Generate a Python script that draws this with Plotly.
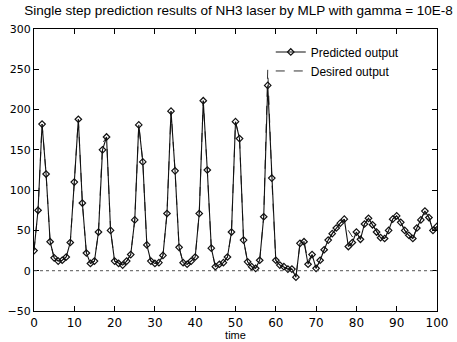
import plotly.graph_objects as go

time = list(range(0, 101))

predicted = [
    25, 75, 182, 120, 36, 16, 12, 13, 17, 35,
    110, 188, 84, 22, 9, 12, 48, 150, 166, 50,
    12, 9, 7, 12, 20, 63, 181, 135, 32, 12,
    9, 10, 19, 71, 198, 124, 29, 10, 8, 12,
    17, 71, 211, 125, 28, 5, 8, 10, 17, 48,
    185, 164, 38, 11, 5, 3, 13, 67, 230, 115,
    13, 7, 5, 2, 2, -8, 34, 36, 8, 20,
    3, 13, 26, 38, 46, 53, 59, 64, 30, 35,
    48, 39, 58, 65, 57, 48, 41, 40, 50, 64,
    68, 60, 50, 44, 40, 53, 63, 74, 66, 50,
    55,
]

desired = [
    25, 75, 182, 120, 36, 16, 12, 13, 17, 35,
    110, 188, 84, 22, 9, 12, 48, 158, 166, 50,
    12, 9, 7, 12, 20, 63, 181, 135, 32, 12,
    9, 10, 19, 71, 198, 124, 29, 10, 8, 12,
    17, 71, 211, 125, 28, 5, 8, 10, 17, 48,
    185, 164, 38, 11, 5, 3, 13, 67, 250, 115,
    13, 7, 5, 2, 2, -8, 34, 36, 12, 20,
    3, 13, 26, 38, 46, 53, 59, 64, 50, 42,
    48, 39, 58, 65, 57, 48, 41, 40, 50, 64,
    68, 60, 50, 44, 40, 53, 63, 74, 66, 50,
    55,
]

x_ticks = [0, 10, 20, 30, 40, 50, 60, 70, 80, 90, 100]
y_ticks = [-50, 0, 50, 100, 150, 200, 250, 300]

title_text = "Single step prediction results of NH3 laser by MLP with gamma = 10E-8"

fig = go.Figure()

fig.add_trace(go.Scatter(
    x=time, y=desired, mode="lines", name="Desired output",
    line=dict(color="#333333", width=1, dash="dash"),
))
fig.add_trace(go.Scatter(
    x=time, y=predicted, mode="lines+markers", name="Predicted output",
    line=dict(color="#111111", width=1.1),
    marker=dict(symbol="diamond-open", size=5, color="#111111", line=dict(width=1.2)),
))

fig.add_shape(type="line", xref="paper", yref="y", x0=0, x1=1, y0=0, y1=0,
              line=dict(color="#555555", width=1, dash="dot"))

axis_common = dict(
    showgrid=False, zeroline=False, showline=True, linecolor="black", linewidth=1.2,
    mirror="ticks", ticks="inside", ticklen=5, tickcolor="black", automargin=False,
)

fig.update_layout(
    width=457, height=342,
    margin=dict(l=34, r=20, t=29, b=31),
    paper_bgcolor="white", plot_bgcolor="white",
    font=dict(family="Liberation Sans, Arial, sans-serif", color="black"),
    title=dict(text=title_text, x=0.522, xanchor="center", y=0.985, yanchor="top",
               font=dict(size=13.5, color="black")),
    showlegend=True,
    legend=dict(x=0.92, xanchor="right", y=0.97, yanchor="top", traceorder="reversed",
                bgcolor="rgba(0,0,0,0)", font=dict(size=12), itemwidth=30,
                tracegroupgap=0),
    xaxis=dict(range=[0, 100], tickvals=x_ticks,
               tickfont=dict(family="DejaVu Sans", size=12, color="black"),
               title=dict(text="time", font=dict(size=11), standoff=0), **axis_common),
    yaxis=dict(range=[-50, 300], tickvals=y_ticks,
               tickfont=dict(family="DejaVu Sans", size=11, color="black"),
               **axis_common),
)

fig.write_html("out.html", config={"displayModeBar": False},
               post_script="document.body.style.margin='0';document.body.style.overflow='hidden';")
